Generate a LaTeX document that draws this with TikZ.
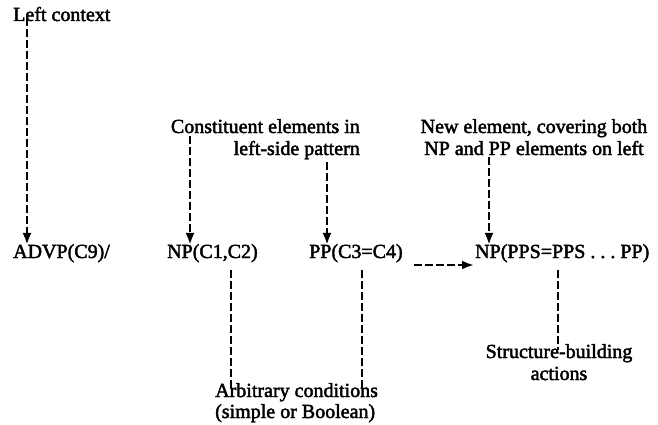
\documentclass[tikz,border=0pt]{standalone}
\usepackage{fontspec}
\setmainfont{Liberation Serif}[FakeBold=2.2]
\usetikzlibrary{arrows.meta}
\begin{document}
\begin{tikzpicture}[x=1pt,y=-1pt,
  txt/.style={inner sep=0pt,font=\fontsize{20}{22}\selectfont},
  conn/.style={line width=2.7pt,dash pattern=on 8pt off 3pt},
  darrow/.style={conn,-{Latex[length=12pt,width=9pt]}}]
\useasboundingbox (0,0) rectangle (658,425);

% pattern row
\node[txt,anchor=base west] (advp) at (13,258) {ADVP(C9)/};
\node[txt,anchor=base west] (np1)  at (167,258) {NP(C1,C2)};
\node[txt,anchor=base west] (pp)   at (309,258) {PP(C3=C4)};
\node[txt,anchor=base west] (np2)  at (475,258) {NP(PPS=PPS\kern5pt.\kern5pt.\kern5pt.\kern5pt PP)};

% annotations above
\node[txt,anchor=base west] (lc) at (13,21) {Left context};
\node[txt,anchor=base east] (cons1) at (360,133) {Constituent elements in};
\node[txt,anchor=base east] (cons2) at (360,155) {left-side pattern};
\node[txt,anchor=base] (new1) at (534,133) {New element, covering both};
\node[txt,anchor=base] (new2) at (534,155) {NP and PP elements on left};

% annotations below
\node[txt,anchor=base west] (arb1) at (215,397) {Arbitrary conditions};
\node[txt,anchor=base west] (arb2) at (215,418) {(simple or Boolean)};
\node[txt,anchor=base] (sb1) at (559,358) {Structure-building};
\node[txt,anchor=base] (sb2) at (559,380) {actions};

% arrows into the pattern row
\draw[darrow] ([xshift=14pt,yshift=3pt]lc.south west) -- ([xshift=14pt,yshift=-1pt]advp.north west);
\draw[darrow] ([xshift=23pt]np1.north west |- cons1.south) ++(0,3) -- ([xshift=23pt,yshift=-1pt]np1.north west);
\draw[darrow] ([xshift=18pt]pp.north west |- cons2.south) ++(0,3) -- ([xshift=18pt,yshift=-1pt]pp.north west);
\draw[darrow] ([xshift=14pt]np2.north west |- new2.south) ++(0,2) -- ([xshift=14pt,yshift=-1pt]np2.north west);

% rewrite arrow
\draw[darrow] ([xshift=11pt,yshift=-7pt]pp.base east) -- ([xshift=-1pt,yshift=-7pt]np2.base west);

% lines down to the conditions and actions
\draw[conn] ([xshift=64pt,yshift=-8pt]np1.south west) -- ([xshift=64pt,yshift=-7pt]np1.south west |- arb1.north);
\draw[conn] ([xshift=53pt,yshift=-8pt]pp.south west) -- ([xshift=53pt,yshift=-7pt]pp.south west |- arb1.north);
\draw[conn] ([xshift=83pt,yshift=-8pt]np2.south west) -- ([xshift=83pt,yshift=-6pt]np2.south west |- sb1.north);
\end{tikzpicture}
\end{document}
